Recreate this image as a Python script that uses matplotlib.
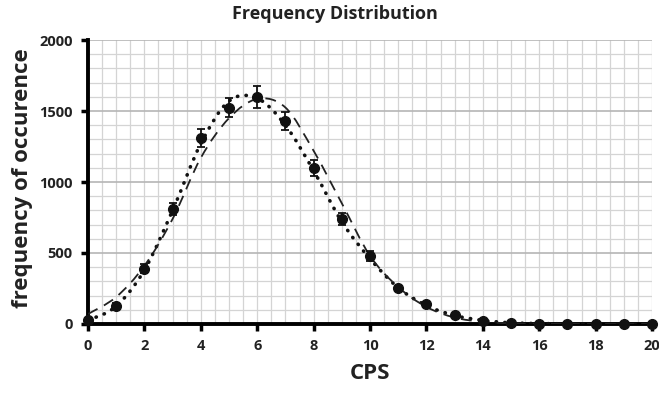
import matplotlib.pyplot as plt
import numpy as np
from matplotlib.path import Path
from matplotlib.patches import PathPatch

plt.rcParams['font.family'] = ['Open Sans', 'DejaVu Sans']

# measured counts per CPS bin
cps = [0, 1, 2, 3, 4, 5, 6, 7, 8, 9, 10, 11, 12, 13, 14, 15, 16, 17, 18, 19, 20]
freq = [25, 130, 390, 810, 1310, 1525, 1600, 1430, 1100, 740, 480, 250, 140, 65, 20, 8, 3, 1, 0, 0, 0]
err = [5, 15, 30, 45, 65, 70, 80, 65, 55, 45, 35, 20, 15, 8, 4, 2, 0, 0, 0, 0, 0]

# fitted curves (dotted and dashed)
fit_dot = [25, 125, 380, 800, 1270, 1570, 1590, 1400, 1080, 720, 460, 255, 130, 60, 25, 8, 3, 1, 0, 0, 0]
fit_dash = [70, 190, 410, 740, 1170, 1450, 1585, 1525, 1220, 850, 480, 260, 120, 45, 15, 4, 1, 0, 0, 0, 0]


def smooth_path(xs, ys, t=1/6):
    # Excel-style smoothed line: cubic Bezier segments through the points
    xs = np.asarray(xs, float); ys = np.asarray(ys, float)
    verts = [(xs[0], ys[0])]
    codes = [Path.MOVETO]
    n = len(xs)
    for i in range(n - 1):
        p0 = i - 1 if i > 0 else i
        p3 = i + 2 if i + 2 < n else i + 1
        c1 = (xs[i] + (xs[i + 1] - xs[p0]) * t, ys[i] + (ys[i + 1] - ys[p0]) * t)
        c2 = (xs[i + 1] - (xs[p3] - xs[i]) * t, ys[i + 1] - (ys[p3] - ys[i]) * t)
        verts += [c1, c2, (xs[i + 1], ys[i + 1])]
        codes += [Path.CURVE4] * 3
    return Path(verts, codes)


fig = plt.figure(figsize=(6.59, 3.97), dpi=100)
ax = fig.add_axes([0.1335, 0.184, 0.856, 0.715])

ax.set_xlim(0, 20)
ax.set_ylim(0, 2000)
ax.set_xticks(range(0, 21, 2))
ax.set_xticks(np.arange(0, 20.01, 0.5), minor=True)
ax.set_yticks(range(0, 2001, 500))
ax.set_yticks(range(0, 2001, 100), minor=True)

ax.grid(which='minor', color='#d4d4d4', lw=0.9)
ax.grid(which='major', axis='y', color='#b5b5b5', lw=1.2)
ax.grid(which='major', axis='x', color='#d4d4d4', lw=0.9)
ax.set_axisbelow(True)

ax.add_patch(PathPatch(smooth_path(cps, fit_dot), fill=False, lw=2.6,
                       ls=(0, (0.1, 2.3)), color='#111111', capstyle='round', zorder=3))
ax.add_patch(PathPatch(smooth_path(cps, fit_dash), fill=False, lw=1.3,
                       ls=(0, (6, 4)), color='#222222', zorder=3))

ax.errorbar(cps, freq, yerr=err, fmt='o', color='#111111', ms=7,
            elinewidth=1.3, capsize=3, capthick=1.3, zorder=4, clip_on=False)

for s in ['top', 'right']:
    ax.spines[s].set_visible(False)
ax.spines['left'].set_linewidth(2.8)
ax.spines['bottom'].set_linewidth(2.8)
ax.tick_params(which='major', length=5, width=2.5, color='black',
               labelsize=10.5)
ax.tick_params(axis='x', which='major', pad=6)
ax.tick_params(axis='y', which='major', pad=6)
ax.tick_params(which='minor', length=0)
for lab in ax.get_xticklabels() + ax.get_yticklabels():
    lab.set_fontweight('bold')
    lab.set_color('#222222')

ax.set_title('Frequency Distribution', fontsize=13, fontweight='bold', pad=15,
             color='#222222', x=0.438)
ax.set_xlabel('CPS', fontsize=16, fontweight='bold', labelpad=7, color='#222222')
ax.set_ylabel('frequency of occurence', fontsize=16, fontweight='bold',
              color='#222222')
ax.yaxis.set_label_coords(-0.098, 0.514)

fig.savefig('out.png', dpi=100)
